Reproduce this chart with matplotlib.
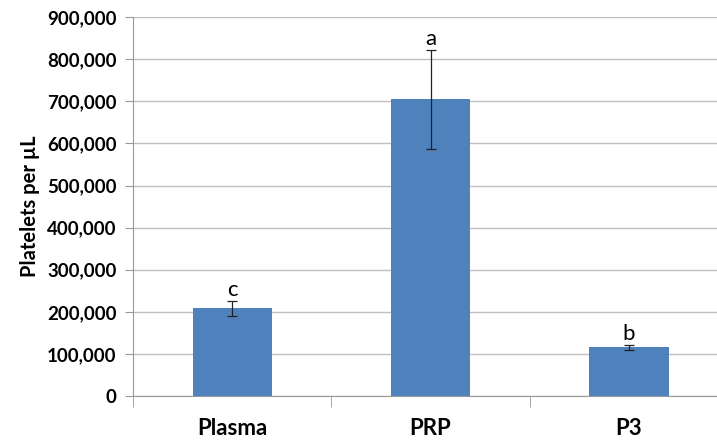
import matplotlib
matplotlib.use("Agg")
import matplotlib.pyplot as plt
from matplotlib.ticker import FuncFormatter, FixedLocator

plt.rcParams['font.family'] = ['Lato', 'DejaVu Sans']

groups = ["Plasma", "PRP", "P3"]
means = [208000, 704500, 115500]
errs = [18000, 118000, 6000]
letters = ["c", "a", "b"]

fig = plt.figure(figsize=(7.17, 4.41), dpi=100)
ax = fig.add_axes([0.1855, 0.102, 0.83, 0.859])

x = list(range(len(groups)))
ax.bar(x, means, width=0.4, color="#4F81BD", zorder=3)
ax.errorbar(x, means, yerr=errs, fmt="none", ecolor="#222222", elinewidth=0.9,
            capsize=3.5, capthick=0.9, zorder=4)
for xi, m, e, lt in zip(x, means, errs, letters):
    ax.text(xi, m + e + 1000, lt, ha="center", va="bottom", fontsize=16)

ax.set_xlim(-0.5, 2.5)
ax.set_ylim(0, 900000)
ax.set_yticks(range(0, 900001, 100000))
ax.yaxis.set_major_formatter(FuncFormatter(lambda v, p: f"{int(v):,}"))
ax.grid(axis="y", color="#BFBFBF", linewidth=1, zorder=0)

ax.set_xticks(x)
ax.set_xticklabels(groups, fontsize=16, fontweight="bold")
ax.xaxis.set_minor_locator(FixedLocator([-0.5, 0.5, 1.5, 2.5]))
ax.tick_params(axis="x", which="major", length=0, pad=16)
ax.tick_params(axis="x", which="minor", length=8, color="#999999")
ax.tick_params(axis="y", length=6, color="#999999", labelsize=13.5, pad=6)
for lab in ax.get_yticklabels():
    lab.set_fontweight("bold")

for s in ["top", "right"]:
    ax.spines[s].set_visible(False)
for s in ["left", "bottom"]:
    ax.spines[s].set_color("#999999")

ax.set_ylabel("Platelets per µL", fontsize=14.5, fontweight="bold", labelpad=5)

fig.savefig("out.png", dpi=100)
